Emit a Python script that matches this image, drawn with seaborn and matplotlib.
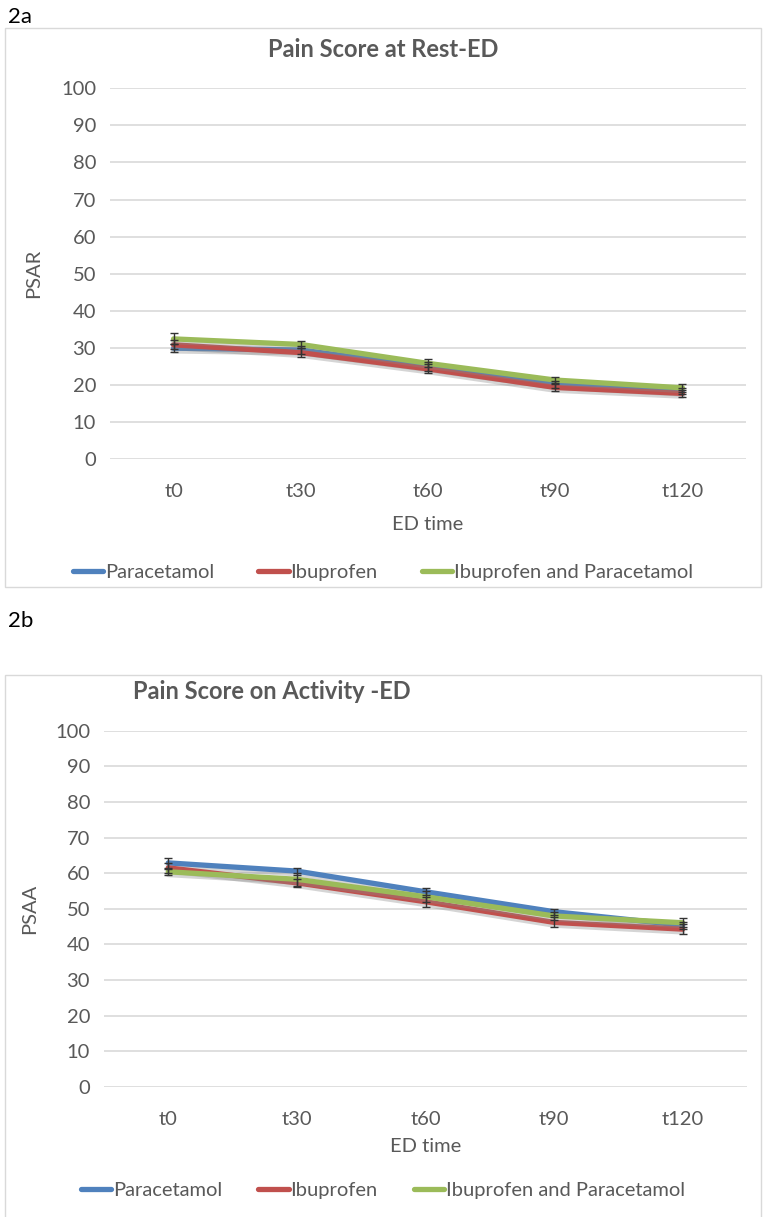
import seaborn as sns
import matplotlib.pyplot as plt
import matplotlib.patheffects as pe
from matplotlib.patches import Rectangle
import pandas as pd

# values
times = ['t0', 't30', 't60', 't90', 't120']
groups = ['Paracetamol', 'Ibuprofen', 'Ibuprofen and Paracetamol']

rest_para = [29.9, 29.4, 24.9, 20.1, 18.3]
rest_ibu = [30.8, 28.7, 24.3, 19.3, 17.7]
rest_combo = [32.4, 30.9, 25.8, 21.3, 19.2]
rest_para_err = [1.0, 1.2, 1.2, 1.0, 0.9]
rest_ibu_err = [1.2, 1.3, 1.2, 1.0, 1.0]
rest_combo_err = [1.5, 1.0, 1.1, 0.9, 1.0]

act_para = [62.9, 60.6, 54.8, 49.2, 45.4]
act_ibu = [61.5, 57.3, 52.0, 46.2, 44.3]
act_combo = [60.4, 58.3, 53.4, 48.0, 46.1]
act_para_err = [1.3, 1.0, 1.0, 0.8, 1.0]
act_ibu_err = [1.5, 1.1, 1.4, 1.4, 1.4]
act_combo_err = [0.9, 1.9, 1.5, 1.2, 1.2]

palette = ['#4F81BD', '#C0504D', '#9BBB59']
TXT = '#595959'
GRID = '#D9D9D9'
FS = 14.5

sns.set_style('white')
plt.rcParams['font.family'] = ['Lato', 'DejaVu Sans']


def long_df(vals):
    rows = []
    for g, v in zip(groups, vals):
        for t, y in zip(times, v):
            rows.append({'time': t, 'score': y, 'group': g})
    return pd.DataFrame(rows)


def draw(fig, rect, vals, errs, title, title_x, ylab, ylab_x, xlab_y, leg_y, colsp):
    ax = fig.add_axes(rect)
    df = long_df(vals)
    sns.lineplot(data=df, x='time', y='score', hue='group', hue_order=groups,
                 palette=palette, lw=3.8, sort=False, ax=ax, legend=False)
    for line in ax.lines:
        line.set_solid_joinstyle('round')
        line.set_path_effects([pe.SimpleLineShadow(offset=(0, -2), shadow_color='#888888', alpha=0.35),
                               pe.Normal()])
    for v, e in zip(vals, errs):
        ax.errorbar(range(len(times)), v, yerr=e, fmt='none', ecolor='#333333',
                    elinewidth=1.0, capsize=3, capthick=1.0, zorder=5)
    ax.set_xlim(-0.5, len(times) - 0.5)
    ax.set_ylim(0, 100)
    ax.set_yticks(range(0, 101, 10))
    ax.grid(axis='y', color=GRID, lw=1.2)
    ax.set_axisbelow(True)
    sns.despine(ax=ax, left=True, bottom=True)
    ax.tick_params(axis='both', length=0, labelsize=FS, labelcolor=TXT)
    ax.tick_params(axis='y', pad=10)
    ax.tick_params(axis='x', pad=17)
    ax.set_xlabel('')
    ax.set_ylabel('')
    cx = rect[0] + rect[2] / 2
    fig.text(cx, xlab_y, 'ED time', ha='center', va='center', fontsize=FS, color=TXT)
    fig.text(ylab_x, rect[1] + rect[3] * 0.5, ylab, rotation=90, ha='center', va='center',
             fontsize=FS, color=TXT)
    fig.text(title_x, rect[1] + rect[3] + 0.032, title, ha='center', va='center',
             fontsize=17, fontweight='bold', color=TXT)
    handles = [plt.Line2D([], [], color=c, lw=3.8) for c in palette]
    fig.legend(handles, groups, loc='center', bbox_to_anchor=(0.5, leg_y), ncol=3, frameon=False,
               fontsize=FS, labelcolor=TXT, handlelength=1.5, handletextpad=0.1,
               columnspacing=colsp)
    return ax


fig = plt.figure(figsize=(7.66, 12.17), dpi=100)
H = 1217.0

# panel frames
fig.patches.append(Rectangle((5 / 766, 1 - 587 / H), 756 / 766, 559 / H, transform=fig.transFigure,
                             fill=False, ec=GRID, lw=1.0))
fig.patches.append(Rectangle((5 / 766, -0.01), 756 / 766, 1 - 675 / H + 0.01, transform=fig.transFigure,
                             fill=False, ec=GRID, lw=1.0))

fig.text(8 / 766, 1 - 17 / H, '2a', fontsize=16, color='black', va='center')
fig.text(8 / 766, 1 - 621 / H, '2b', fontsize=16, color='black', va='center')

draw(fig, [110 / 766, 1 - 459 / H, 636 / 766, 370.7 / H],
     [rest_para, rest_ibu, rest_combo], [rest_para_err, rest_ibu_err, rest_combo_err],
     'Pain Score at Rest-ED', 0.5, 'PSAR', 34 / 766, 1 - 524 / H, 1 - 572 / H, 2.2)

draw(fig, [104 / 766, 1 - 1087 / H, 643 / 766, 356.3 / H],
     [act_para, act_ibu, act_combo], [act_para_err, act_ibu_err, act_combo_err],
     'Pain Score on Activity -ED', 272 / 766, 'PSAA', 30 / 766, 1 - 1146 / H, 1 - 1190 / H, 1.8)

fig.savefig('out.png', dpi=100)
